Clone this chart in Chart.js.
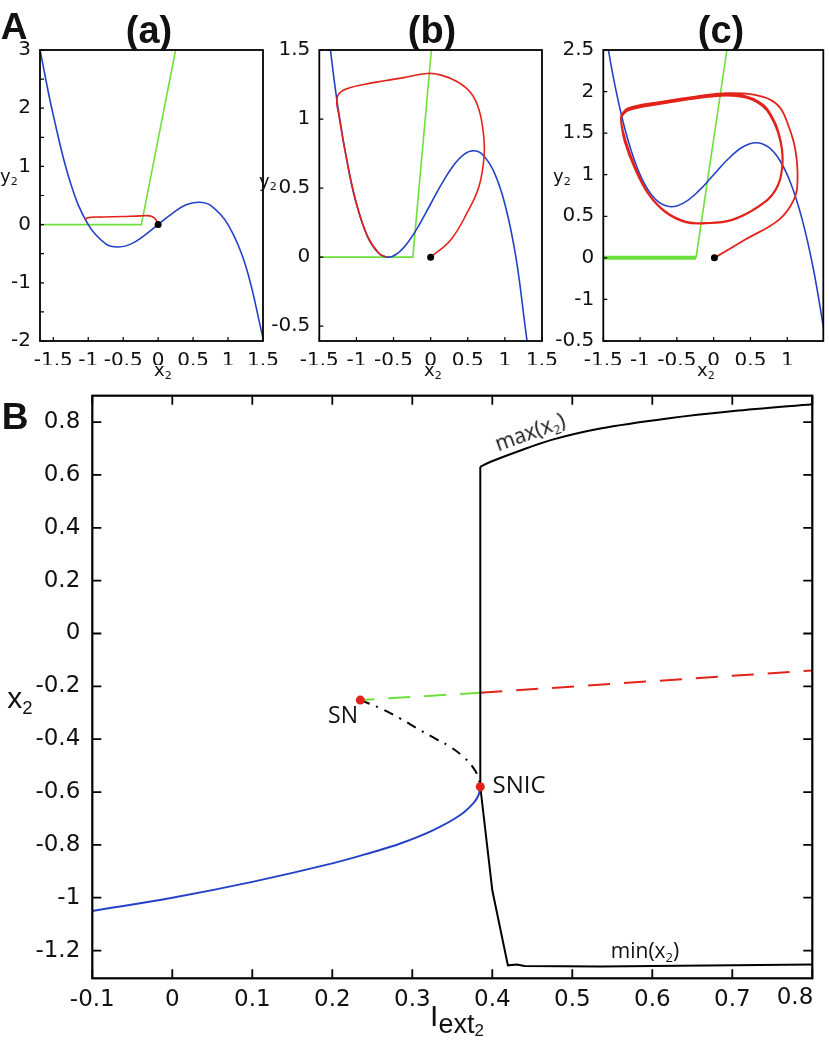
<!DOCTYPE html>
<html>
<head>
<meta charset="utf-8">
<script src="https://cdn.jsdelivr.net/npm/chart.js@4.4.1/dist/chart.umd.min.js"></script>
<style>
  body { margin: 0; background: #fff; }
  #fig { position: relative; width: 829px; height: 1042px; overflow: hidden; color: #111; font-family: "DejaVu Sans", sans-serif; }
  #fig canvas { position: absolute; }
  .t { position: absolute; transform: translate(-50%, -50%); white-space: nowrap; line-height: 1; }
  .bold { font-family: "Liberation Sans", Arial, sans-serif; font-weight: bold; font-size: 37px; }
  .ttl { font-family: "Liberation Sans", Arial, sans-serif; font-weight: bold; font-size: 38px; }
  .ax { font-size: 18px; }
  .lab { font-family: "Open Sans", sans-serif; }
  .sub { font-size: 0.62em; position: relative; top: 0.3em; }
</style>
</head>
<body>
<div id="fig">
  <canvas id="pa" width="290" height="390" style="left:0;top:0"></canvas>
  <canvas id="pb" width="300" height="390" style="left:270px;top:0"></canvas>
  <canvas id="pc" width="284" height="390" style="left:545px;top:0"></canvas>
  <canvas id="pB" width="829" height="692" style="left:0;top:350px"></canvas>

  <div class="t bold" style="left:14px;top:26px">A</div>
  <div class="t bold" style="left:15px;top:416px">B</div>
  <div class="t ttl" style="left:149px;top:30px">(a)</div>
  <div class="t ttl" style="left:432px;top:30px">(b)</div>
  <div class="t ttl" style="left:721px;top:30px">(c)</div>

  <div class="t ax" style="left:9px;top:176px">y<span class="sub">2</span></div>
  <div class="t ax" style="left:268px;top:181px">y<span class="sub">2</span></div>
  <div class="t ax" style="left:562px;top:176px">y<span class="sub">2</span></div>
  <div class="t ax" style="left:163px;top:370px">x<span class="sub">2</span></div>
  <div class="t ax" style="left:433px;top:370px">x<span class="sub">2</span></div>
  <div class="t ax" style="left:706px;top:370px">x<span class="sub">2</span></div>

  <div class="t" style="left:20px;top:698px;font-family:'Liberation Sans',Arial,sans-serif;font-size:30px">x<span class="sub">2</span></div>
  <div class="t" style="left:457px;top:1016px;font-family:'Liberation Sans',Arial,sans-serif;font-size:30px">I<span style="font-size:27px;position:relative;top:7px">ext<span style="font-size:17px;position:relative;top:3px">2</span></span></div>
  <div class="t" style="left:795px;top:996px;font-size:23px">0.8</div>

  <div class="t lab" style="left:343px;top:714px;font-size:23px">SN</div>
  <div class="t lab" style="left:519px;top:784px;font-size:24px">SNIC</div>
  <div class="t lab" style="left:530px;top:432px;font-size:21px;transform:translate(-50%,-50%) rotate(-20deg)">max(x<span class="sub">2</span>)</div>
  <div class="t lab" style="left:645px;top:950px;font-size:21px">min(x<span class="sub">2</span>)</div>
</div>

<script>
// ---- panel (a) ----
const aBlueX = [-1.69, -1.5, -1.25, -1, -0.75, -0.58, -0.4, -0.2, 0, 0.2, 0.4, 0.58, 0.75, 1, 1.25, 1.5];
const aBlueY = [3.0, 1.88, 0.70, 0, -0.33, -0.385, -0.34, -0.19, 0, 0.19, 0.34, 0.385, 0.33, 0, -0.70, -1.95];
const aGreenX = [-1.69, -0.24, 0.25];
const aGreenY = [0, 0, 3.0];
const aRedX = [-1.05, -1.0, -0.8, -0.5, -0.25, -0.12, -0.06, -0.02, 0];
const aRedY = [0.08, 0.12, 0.13, 0.14, 0.15, 0.15, 0.12, 0.06, 0];
const aDotX = [0];
const aDotY = [0];

// ---- panel (b) ----
const bBlueX = [-1.37, -1.25, -1.1, -1.0, -0.85, -0.7, -0.58, -0.45, -0.3, -0.15, 0, 0.15, 0.3, 0.45, 0.58, 0.7, 0.85, 1.0, 1.15, 1.3, 1.4];
const bBlueY = [1.586, 1.088, 0.616, 0.385, 0.149, 0.028, 0.0, 0.026, 0.112, 0.238, 0.385, 0.532, 0.658, 0.744, 0.77, 0.742, 0.621, 0.385, -0.006, -0.612, -0.959];
const bGreenX = [-1.5, -0.24, 0.01];
const bGreenY = [0, 0, 1.5];
const bRedX = [0.0, 0.27, 0.49, 0.65, 0.72, 0.71, 0.65, 0.54, 0.36, 0.13, -0.05, -0.36, -0.81, -1.13, -1.24, -1.265, -1.24, -1.15, -1.0, -0.85, -0.7, -0.6];
const bRedY = [0.0, 0.125, 0.32, 0.51, 0.73, 0.90, 1.07, 1.19, 1.27, 1.32, 1.33, 1.30, 1.26, 1.22, 1.18, 1.12, 1.04, 0.76, 0.39, 0.15, 0.03, 0.0];
const bDotX = [0];
const bDotY = [0];

// ---- panel (c) ----
const cBlueX = [-1.46, -1.35, -1.2, -1.05, -0.9, -0.75, -0.58, -0.4, -0.2, 0, 0.2, 0.4, 0.58, 0.75, 0.9, 1.05, 1.2, 1.35, 1.5];
const cBlueY = [2.652, 2.110, 1.528, 1.108, 0.829, 0.672, 0.615, 0.664, 0.808, 1.0, 1.192, 1.336, 1.385, 1.328, 1.171, 0.892, 0.472, -0.110, -0.875];
const cGreenFlatX = [-1.5, -0.24];
const cGreenFlatY = [0, 0];
const cGreenX = [-0.24, 0.18];
const cGreenY = [0, 2.5];
const cRedX = [0.01, 0.43, 0.89, 1.09, 1.14, 1.11, 1.02, 0.89, 0.66, 0.20, -0.25, -0.70, -1.16, -1.25, -1.26,
  -1.2, -1.07, -0.89, -0.66, -0.39, -0.11, 0.25, 0.61, 0.84, 0.93, 0.91, 0.80, 0.61, 0.25, -0.25, -0.70, -1.16, -1.25, -1.26,
  -1.21, -1.08, -0.89, -0.66, -0.39, -0.11, 0.25, 0.61, 0.84, 0.935, 0.915, 0.81, 0.62, 0.25, -0.25, -0.70, -1.16, -1.25];
const cRedY = [0.0, 0.22, 0.46, 0.70, 0.94, 1.30, 1.58, 1.82, 1.94, 1.98, 1.94, 1.88, 1.80, 1.72, 1.66,
  1.42, 1.10, 0.78, 0.56, 0.44, 0.42, 0.46, 0.62, 0.82, 1.10, 1.38, 1.66, 1.86, 1.95, 1.915, 1.855, 1.775, 1.70, 1.64,
  1.40, 1.09, 0.77, 0.55, 0.43, 0.415, 0.455, 0.615, 0.81, 1.10, 1.39, 1.67, 1.875, 1.965, 1.93, 1.87, 1.79, 1.71];
const cDotX = [0.01];
const cDotY = [0];

// ---- panel B (bifurcation diagram) ----
const stableX = [-0.1, 0, 0.1, 0.2, 0.25, 0.285, 0.327, 0.36, 0.377, 0.383, 0.385];
const stableY = [-1.05, -1.0, -0.94, -0.87, -0.828, -0.795, -0.743, -0.687, -0.64, -0.61, -0.58];
const saddleX = [0.235, 0.26, 0.285, 0.31, 0.33, 0.348, 0.365, 0.375, 0.382, 0.385];
const saddleY = [-0.252, -0.283, -0.322, -0.366, -0.40, -0.43, -0.47, -0.503, -0.54, -0.58];
const unstGreenX = [0.235, 0.385];
const unstGreenY = [-0.252, -0.224];
const unstRedX = [0.385, 0.8];
const unstRedY = [-0.224, -0.140];
const jumpX = [0.385, 0.385];
const jumpY = [-0.58, 0.631];
const maxX = [0.385, 0.398, 0.431, 0.473, 0.535, 0.619, 0.702, 0.8];
const maxY = [0.631, 0.65, 0.688, 0.732, 0.776, 0.814, 0.842, 0.868];
const minX = [0.385, 0.4, 0.4195, 0.431, 0.44, 0.535, 0.702, 0.8];
const minY = [-0.58, -0.972, -1.256, -1.253, -1.258, -1.26, -1.256, -1.253];
const bifPtX = [0.235, 0.385];
const bifPtY = [-0.252, -0.58];

const BLUE = '#2342c8', RED = '#e2231a', GREEN = '#6ee03c', BLACK = '#000';

Chart.defaults.font.family = '"DejaVu Sans", sans-serif';
Chart.defaults.color = '#111';

const fmt = v => String(+Number(v).toFixed(2));
const pts = (xs, ys) => xs.map((x, i) => ({ x: x, y: ys[i] }));

function line(xs, ys, color, width, extra) {
  return Object.assign({
    data: pts(xs, ys), showLine: true, borderColor: color, borderWidth: width,
    pointRadius: 0, tension: 0, fill: false
  }, extra || {});
}

function dots(xs, ys, color, r) {
  return {
    data: pts(xs, ys), showLine: false, pointRadius: r,
    pointBackgroundColor: color, pointBorderColor: color, pointBorderWidth: 0
  };
}

// box frame + inward ticks, MATLAB style
const frameTicks = {
  id: 'frameTicks',
  afterDatasetsDraw(chart, args, o) {
    const { ctx, chartArea: a } = chart;
    const x = chart.scales.x, y = chart.scales.y;
    ctx.save();
    ctx.strokeStyle = BLACK;
    ctx.lineWidth = o.tickWidth;
    ctx.beginPath();
    x.ticks.forEach(t => {
      const p = x.getPixelForValue(t.value);
      ctx.moveTo(p, a.bottom); ctx.lineTo(p, a.bottom - o.len);
      if (o.mirror) { ctx.moveTo(p, a.top); ctx.lineTo(p, a.top + o.len); }
    });
    y.ticks.forEach(t => {
      const p = y.getPixelForValue(t.value);
      ctx.moveTo(a.left, p); ctx.lineTo(a.left + o.len, p);
      if (o.mirror) { ctx.moveTo(a.right, p); ctx.lineTo(a.right - o.len, p); }
    });
    ctx.stroke();
    ctx.lineWidth = o.frameWidth;
    ctx.strokeRect(a.left, a.top, a.width, a.height);
    ctx.restore();
  }
};

function panel(id, p) {
  return new Chart(document.getElementById(id), {
    type: 'scatter',
    data: { datasets: p.datasets },
    options: {
      responsive: false, animation: false, devicePixelRatio: 1,
      layout: { padding: p.pad },
      plugins: { legend: { display: false }, tooltip: { enabled: false }, frameTicks: p.frame },
      scales: {
        x: {
          type: 'linear', min: p.xMin, max: p.xMax,
          grid: { display: false }, border: { display: false },
          ticks: {
            stepSize: p.xStep, includeBounds: false, autoSkip: false, maxRotation: 0, maxTicksLimit: 30,
            padding: p.xPad, font: { size: p.font }, color: '#111', callback: p.xLabel || fmt
          },
          afterFit: s => { s.height = p.xH; }
        },
        y: {
          type: 'linear', min: p.yMin, max: p.yMax,
          grid: { display: false }, border: { display: false },
          ticks: {
            stepSize: p.yStep, includeBounds: false, autoSkip: false, maxTicksLimit: 30,
            padding: p.yPad, font: { size: p.font }, color: '#111', callback: p.yLabel || fmt
          },
          afterFit: s => { s.width = p.yW; }
        }
      }
    },
    plugins: [frameTicks]
  });
}

const smallFrame = { len: 4, mirror: false, frameWidth: 1.8, tickWidth: 1.2 };

// (a)
panel('pa', {
  datasets: [
    dots(aDotX, aDotY, BLACK, 3.5),
    line(aRedX, aRedY, RED, 1.6, { tension: 0.4 }),
    line(aBlueX, aBlueY, BLUE, 1.6, { tension: 0.4 }),
    line(aGreenX, aGreenY, GREEN, 1.6)
  ],
  xMin: -1.69, xMax: 1.5, xStep: 0.5,
  yMin: -2, yMax: 3, yStep: 0.5,
  yLabel: v => Number.isInteger(v) ? String(v) : '',
  pad: { left: 0, top: 50, right: 27, bottom: 25 }, yW: 40, xH: 24,
  font: 20, xPad: 0, yPad: 1, frame: smallFrame
});

// (b)
panel('pb', {
  datasets: [
    dots(bDotX, bDotY, BLACK, 3.5),
    line(bRedX, bRedY, RED, 1.6, { tension: 0.4 }),
    line(bBlueX, bBlueY, BLUE, 1.6, { tension: 0.4 }),
    line(bGreenX, bGreenY, GREEN, 1.6)
  ],
  xMin: -1.5, xMax: 1.5, xStep: 0.5,
  yMin: -0.607, yMax: 1.5, yStep: 0.5,
  pad: { left: 0, top: 50, right: 28, bottom: 25 }, yW: 49.3, xH: 24,
  font: 20, xPad: 0, yPad: 1, frame: smallFrame
});

// (c)  (labels at -0.5 / -1 are as printed in the figure)
panel('pc', {
  datasets: [
    dots(cDotX, cDotY, BLACK, 3.5),
    line(cRedX, cRedY, RED, 1.8, { tension: 0.4 }),
    line(cBlueX, cBlueY, BLUE, 1.6, { tension: 0.4 }),
    line(cGreenFlatX, cGreenFlatY, GREEN, 4),
    line(cGreenX, cGreenY, GREEN, 1.6)
  ],
  xMin: -1.5, xMax: 1.49, xStep: 0.5,
  yMin: -1, yMax: 2.5, yStep: 0.5,
  yLabel: v => v === -0.5 ? '-1' : (v === -1 ? '-0.5' : fmt(v)),
  pad: { left: 0, top: 50, right: 5.7, bottom: 25 }, yW: 58.3, xH: 24,
  font: 20, xPad: 0, yPad: 1, frame: smallFrame
});

// B
panel('pB', {
  datasets: [
    dots(bifPtX, bifPtY, RED, 4.5),
    line(stableX, stableY, BLUE, 2, { tension: 0.4 }),
    line(jumpX, jumpY, BLACK, 2),
    line(maxX, maxY, BLACK, 2, { tension: 0.3 }),
    line(minX, minY, BLACK, 2),
    line(saddleX, saddleY, BLACK, 2, { tension: 0.4, borderDash: [10, 7, 2, 7] }),
    line(unstRedX, unstRedY, RED, 2, { borderDash: [22, 14] }),
    line(unstGreenX, unstGreenY, GREEN, 2, { borderDash: [22, 14], borderDashOffset: 8 })
  ],
  xMin: -0.1, xMax: 0.8, xStep: 0.1,
  yMin: -1.305, yMax: 0.9, yStep: 0.2,
  xLabel: v => Math.abs(v - 0.8) < 1e-9 ? '' : fmt(v),
  pad: { left: 0, top: 45.7, right: 16.7, bottom: 27.7 }, yW: 92.3, xH: 36,
  font: 23, xPad: 0, yPad: 4,
  frame: { len: 9, mirror: true, frameWidth: 2.2, tickWidth: 1.8 }
});
</script>
</body>
</html>
